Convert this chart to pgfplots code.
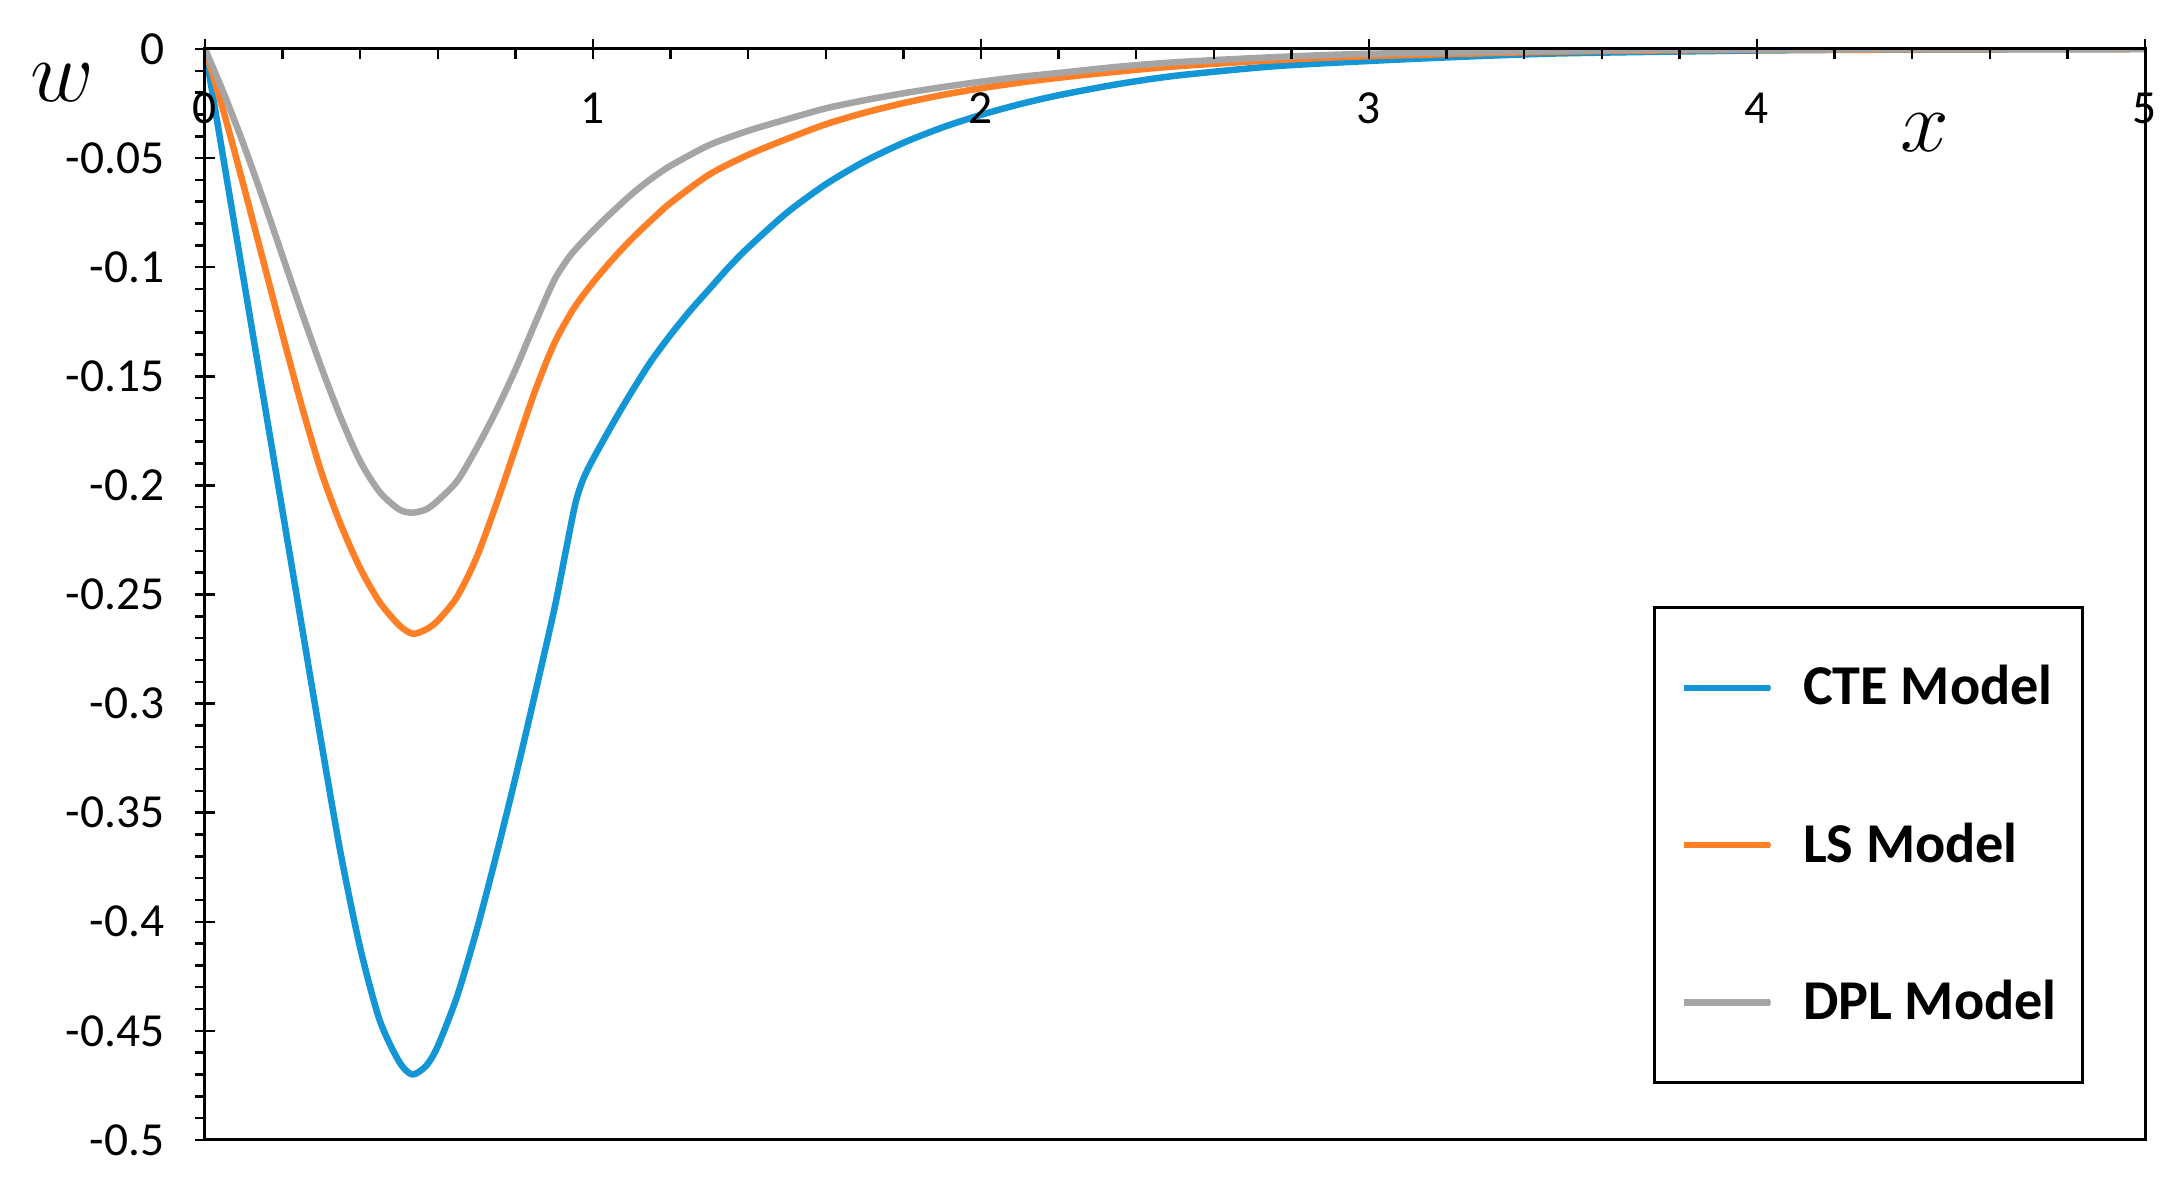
\documentclass[border=0pt]{standalone}
\usepackage{fontspec}
\setmainfont{Carlito}
\usepackage{pgfplots}
\usepackage{pgfplotstable}
\pgfplotsset{compat=1.18}
\definecolor{cte}{RGB}{18,150,214}
\definecolor{ls}{RGB}{255,127,39}
\definecolor{dpl}{RGB}{165,165,165}

\pgfplotstableread{
x w
0 0
0.05 -0.053
0.1 -0.106
0.15 -0.159
0.2 -0.212
0.25 -0.265
0.3 -0.318
0.35 -0.369
0.4 -0.412
0.45 -0.445
0.5 -0.464
0.534 -0.470
0.57 -0.466
0.6 -0.457
0.65 -0.434
0.7 -0.404
0.75 -0.370
0.8 -0.334
0.85 -0.296
0.9 -0.257
0.93 -0.230
0.955 -0.208
0.975 -0.197
1.0 -0.188
1.05 -0.172
1.1 -0.157
1.15 -0.143
1.2 -0.131
1.25 -0.120
1.3 -0.110
1.35 -0.100
1.4 -0.091
1.5 -0.0750
1.6 -0.0620
1.7 -0.0515
1.8 -0.0430
1.9 -0.0360
2.0 -0.0302
2.1 -0.0253
2.2 -0.0212
2.35 -0.0162
2.5 -0.0123
2.75 -0.0080
3.0 -0.0055
3.25 -0.0035
3.5 -0.0020
4.0 -0.0007
4.5 -0.0002
5.0 0
}\ctetable

\pgfplotstableread{
x w
0 0
0.05 -0.030
0.1 -0.063
0.15 -0.097
0.2 -0.131
0.25 -0.164
0.3 -0.194
0.35 -0.218
0.4 -0.238
0.45 -0.2535
0.5 -0.264
0.535 -0.268
0.57 -0.266
0.6 -0.262
0.65 -0.251
0.7 -0.233
0.75 -0.209
0.8 -0.183
0.85 -0.157
0.9 -0.135
0.95 -0.119
1.0 -0.107
1.05 -0.0965
1.1 -0.0870
1.15 -0.0785
1.2 -0.0705
1.3 -0.0575
1.4 -0.0485
1.5 -0.0412
1.6 -0.0345
1.7 -0.0292
1.8 -0.0248
1.9 -0.0211
2.0 -0.0180
2.1 -0.0154
2.2 -0.0132
2.35 -0.0104
2.5 -0.0080
2.75 -0.0052
3.0 -0.0033
3.5 -0.0012
4.0 -0.0004
5.0 0
}\lstable

\pgfplotstableread{
x w
0 0
0.05 -0.021
0.1 -0.044
0.15 -0.069
0.2 -0.095
0.25 -0.121
0.3 -0.146
0.35 -0.169
0.4 -0.189
0.45 -0.203
0.5 -0.211
0.534 -0.2125
0.57 -0.211
0.6 -0.207
0.65 -0.198
0.7 -0.183
0.75 -0.166
0.8 -0.147
0.85 -0.126
0.9 -0.106
0.94 -0.095
0.98 -0.0870
1.03 -0.0780
1.1 -0.0665
1.15 -0.0595
1.2 -0.0535
1.3 -0.0440
1.4 -0.0375
1.5 -0.0322
1.6 -0.0272
1.7 -0.0235
1.8 -0.0203
1.9 -0.0175
2.0 -0.0150
2.1 -0.0128
2.2 -0.0110
2.35 -0.0082
2.5 -0.0061
2.75 -0.0038
3.0 -0.0022
3.5 -0.0008
4.0 -0.0002
5.0 0
}\dpltable

\begin{document}
\begin{tikzpicture}
\begin{axis}[
  at={(0,0)}, anchor=south west,
  scale only axis,
  width=19.40cm, height=10.91cm,
  xmin=0, xmax=5, ymin=-0.5, ymax=0,
  axis on top,
  axis line style={black, line width=0.03cm},
  xtick={0,1,2,3,4,5},
  xticklabels={0,1,2,3,4,5},
  ytick={0,-0.05,-0.1,-0.15,-0.2,-0.25,-0.3,-0.35,-0.4,-0.45,-0.5},
  yticklabels={0,-0.05,-0.1,-0.15,-0.2,-0.25,-0.3,-0.35,-0.4,-0.45,-0.5},
  minor x tick num=4,
  minor y tick num=4,
  xtick pos=right,
  xticklabel pos=right,
  ytick pos=left,
  tick align=center,
  major tick length=0.20cm,
  minor tick length=0.10cm,
  every tick/.style={black, line width=0.025cm},
  minor x tick style={yshift=-0.05cm},
  minor y tick style={xshift=-0.05cm},
  ticklabel style={font=\fontsize{13.5}{15}\selectfont},
  xticklabel style={anchor=center, yshift=-0.69cm},
  yticklabel style={anchor=east, xshift=-0.18cm},
  xlabel={\fontsize{23}{26}\selectfont$x$},
  xlabel style={at={(axis description cs:0.8866,0.9230)}, anchor=center},
  ylabel={\fontsize{23}{26}\selectfont$w$},
  ylabel style={at={(axis description cs:-0.0737,0.9689)}, anchor=center, rotate=-90},
  legend style={at={(axis description cs:0.7464,0.4895)}, anchor=north west,
    draw=black, line width=0.03cm, fill=white,
    inner xsep=0.26cm, inner ysep=0.58cm,
    row sep=1.125cm, column sep=0.30cm,
    font=\fontsize{16}{19}\selectfont\bfseries,
    nodes={inner sep=0pt}},
  legend cell align=left,
  legend image code/.code={\path (0cm,0cm) -- (0.86cm,0cm);
    \draw[#1, line width=0.065cm, line cap=round] (0.09cm,0cm) -- (0.84cm,0cm);},
]
\addplot[cte, line width=0.065cm, line join=round, smooth, tension=0.45] table[x=x, y=w] {\ctetable};
\addlegendentry{CTE Model}
\addplot[ls, line width=0.065cm, line join=round, smooth, tension=0.45] table[x=x, y=w] {\lstable};
\addlegendentry{LS Model}
\addplot[dpl, line width=0.065cm, line join=round, smooth, tension=0.45] table[x=x, y=w] {\dpltable};
\addlegendentry{DPL Model}
\end{axis}
\pgfresetboundingbox
\useasboundingbox (-2.05cm,-0.42cm) rectangle (19.74cm,11.40cm);
\end{tikzpicture}
\end{document}
